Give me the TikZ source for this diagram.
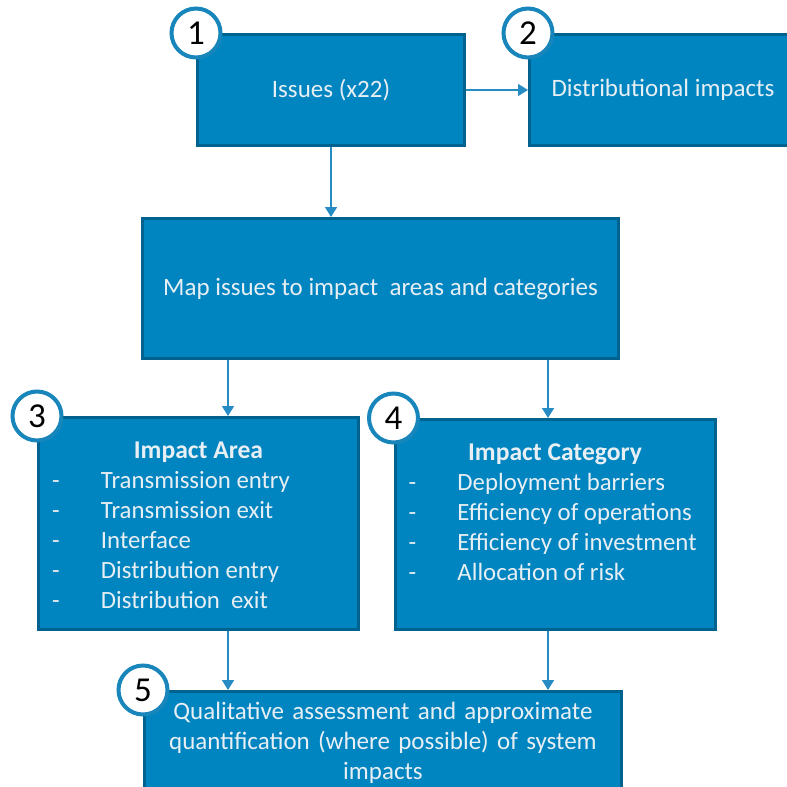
\documentclass[tikz,border=0pt]{standalone}
\usepackage{fontspec}
\setmainfont{Carlito}
\usetikzlibrary{positioning}
\usetikzlibrary{arrows.meta}

\definecolor{boxblue}{RGB}{0,133,192}
\definecolor{boxedge}{RGB}{0,98,143}
\definecolor{ringblue}{RGB}{24,133,187}
\definecolor{flowblue}{RGB}{40,140,196}
\definecolor{boxtext}{RGB}{232,239,244}

\tikzset{
	box/.style={rectangle, draw=boxedge, line width=1.5pt, fill=boxblue, text=boxtext,
		inner sep=0pt, align=center, font=\fontsize{12.5}{15}\selectfont},
	numring/.style={circle, draw=ringblue, line width=2pt, fill=white, minimum size=24.5pt,
		inner sep=0pt, font=\fontsize{17.5}{17.5}\selectfont},
	listtext/.style={text=boxtext, inner sep=0pt, font=\fontsize{12.4}{15}\selectfont},
	flow/.style={draw=flowblue, line width=0.8pt, -{Triangle[length=5pt,width=6pt]}}
}

\begin{document}
\begin{tikzpicture}[x=0.5pt,y=-0.5pt]
		\useasboundingbox (0,0) rectangle (787,787);
		\clip (0,0) rectangle (787,787);
		\coordinate (colL) at (228,0);
		\coordinate (colR) at (548,0);
		% boxes
		\node (b1) [box, minimum width=133.5pt, minimum height=55.5pt] at (331,90) {Issues (x22)};
		\node (b2) [box, minimum width=133.5pt, minimum height=55.5pt, right=31pt of b1] {Distributional impacts};
		\node (map) [box, minimum width=238pt, minimum height=70pt] at (380.5,288.5) {Map issues to impact\ \ areas and categories};
		\node (b3) [box, minimum width=160pt, minimum height=106pt] at (198.5,523.5) {};
		\node (b4) [box, minimum width=160pt, minimum height=105pt] at (555,524.5) {};
		\node (b5) [box, text width=238.5pt, inner ysep=5.5pt, anchor=north] at (383,690)
			{Qualitative assessment and approximate\\ quantification (where possible) of system\\ impacts};
		% lists inside 3 and 4
		\node (l3) [listtext, below=10.5pt of b3.north] {%
			\begin{tabular}{@{}p{24.5pt}@{}p{122pt}@{}}
				\multicolumn{2}{@{}c@{}}{\bfseries\fontsize{12.8}{15}\selectfont Impact Area}\\
				- & Transmission entry\\
				- & Transmission exit\\
				- & Interface\\
				- & Distribution entry\\
				- & Distribution\ \ exit
			\end{tabular}};
		\node (l4) [listtext, below=10.5pt of b4.north] {%
			\begin{tabular}{@{}p{24.5pt}@{}p{122pt}@{}}
				\multicolumn{2}{@{}c@{}}{\bfseries\fontsize{12.8}{15}\selectfont Impact Category}\\
				- & Deployment\ barriers\\
				- & Efficiency of operations\\
				- & Efficiency of investment\\
				- & Allocation of risk
			\end{tabular}};
		% connectors
		\draw[flow] (b1) -- (b2);
		\draw[flow] (b1.south) -- (b1.south |- map.north);
		\draw[flow] (map.south -| colL) -- (b3.north -| colL);
		\draw[flow] (map.south -| colR) -- (b4.north -| colR);
		\draw[flow] (b3.south -| colL) -- (b5.north -| colL);
		\draw[flow] (b4.south -| colR) -- (b5.north -| colR);
		% step numbers
		\node (n1) [numring] at (b1.north west) {1};
		\node (n2) [numring] at (b2.north west) {2};
		\node (n3) [numring] at (b3.north west) {3};
		\node (n4) [numring] at (b4.north west) {4};
		\node (n5) [numring] at (b5.north west) {5};
\end{tikzpicture}
\end{document}
